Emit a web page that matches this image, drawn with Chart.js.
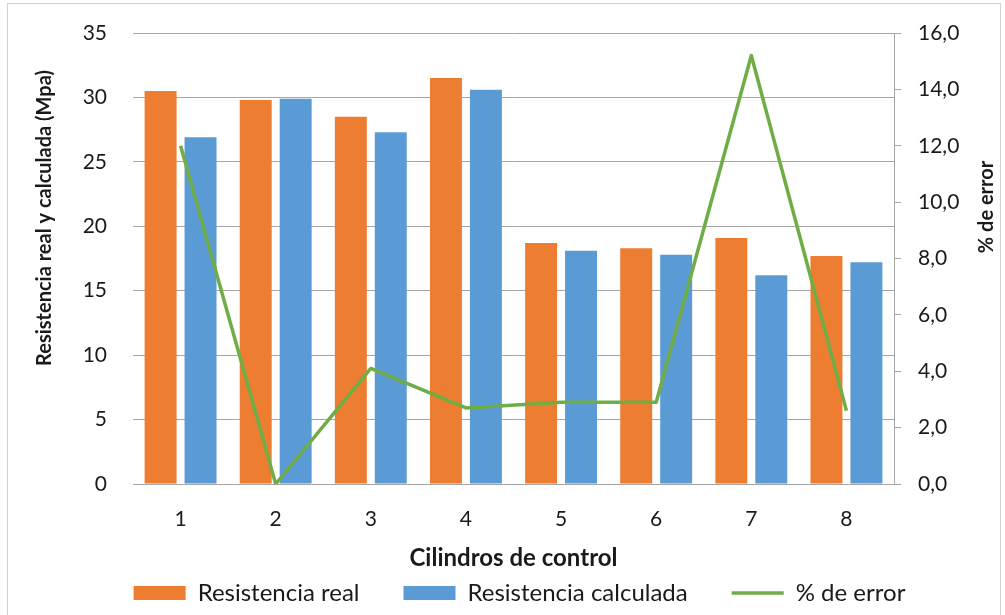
<!DOCTYPE html>
<html>
<head>
<meta charset="utf-8">
<title>Resistencia real y calculada</title>
<script src="https://cdn.jsdelivr.net/npm/chart.js@4/dist/chart.umd.min.js"></script>
<style>
  html, body { margin: 0; padding: 0; background: #ffffff; }
  #wrap { width: 1005px; height: 615px; position: relative; }
  canvas { display: block; }
</style>
</head>
<body>
<div id="wrap"><canvas id="chart" width="1005" height="615"></canvas></div>
<script>
// Cilindros de control: resistencia a compresión real vs. calculada (MPa) y % de error
const categories = ['1', '2', '3', '4', '5', '6', '7', '8'];
const resistenciaReal = [30.5, 29.8, 28.5, 31.5, 18.7, 18.3, 19.1, 17.7];
const resistenciaCalculada = [26.9, 29.9, 27.3, 30.6, 18.1, 17.8, 16.2, 17.2];
const porcentajeError = [12.0, 0.0, 4.1, 2.7, 2.9, 2.9, 15.2, 2.6];
const seriesNames = ['Resistencia real', 'Resistencia calculada', '% de error'];
const axisTitles = {
  left: 'Resistencia real y calculada (Mpa)',
  right: '% de error',
  bottom: 'Cilindros de control'
};

const FONT = 'Lato, "Open Sans", "DejaVu Sans", sans-serif';
const TEXT = '#1a1a1a';
const GRID = '#a6a6a6';

// White background, outer frame and the two vertical axis titles
const framePlugin = {
  id: 'frame',
  beforeDraw(chart) {
    const ctx = chart.ctx;
    ctx.save();
    ctx.fillStyle = '#ffffff';
    ctx.fillRect(0, 0, chart.width, chart.height);
    ctx.strokeStyle = '#d0d0d0';
    ctx.lineWidth = 1;
    ctx.strokeRect(7.5, 3.5, 993, 640);
    ctx.restore();
  },
  afterDraw(chart) {
    const ctx = chart.ctx;
    const area = chart.chartArea;
    ctx.save();
    ctx.fillStyle = TEXT;
    ctx.font = 'bold 20px ' + FONT;
    ctx.textAlign = 'center';
    ctx.textBaseline = 'middle';
    ctx.translate(area.left - 88, area.top + 185);
    ctx.rotate(-Math.PI / 2);
    ctx.fillText(axisTitles.left, 0, 0);
    ctx.restore();

    ctx.save();
    ctx.fillStyle = TEXT;
    ctx.font = 'bold 20px ' + FONT;
    ctx.textAlign = 'center';
    ctx.textBaseline = 'middle';
    ctx.translate(area.right + 93, area.top + 174);
    ctx.rotate(-Math.PI / 2);
    ctx.fillText(axisTitles.right, 0, 0);
    ctx.restore();
  }
};

// Vertical scales: fixed width, no extra top/bottom padding from the tick labels
function fixVertical(width) {
  return function (scale) {
    scale.width = width;
    scale.paddingTop = 0;
    scale.paddingBottom = 0;
  };
}

const chart = new Chart(document.getElementById('chart'), {
  data: {
    labels: categories,
    datasets: [
      {
        type: 'bar',
        label: seriesNames[0],
        data: resistenciaReal,
        backgroundColor: '#ed7d31',
        yAxisID: 'y',
        order: 1,
        barPercentage: 0.8,
        categoryPercentage: 0.84
      },
      {
        type: 'bar',
        label: seriesNames[1],
        data: resistenciaCalculada,
        backgroundColor: '#5b9bd5',
        yAxisID: 'y',
        order: 1,
        barPercentage: 0.8,
        categoryPercentage: 0.84
      },
      {
        type: 'line',
        label: seriesNames[2],
        data: porcentajeError,
        borderColor: '#70ad47',
        backgroundColor: '#70ad47',
        borderWidth: 3.5,
        borderJoinStyle: 'round',
        pointRadius: 0,
        pointHoverRadius: 0,
        tension: 0,
        fill: false,
        yAxisID: 'y1',
        order: 0
      }
    ]
  },
  options: {
    responsive: false,
    animation: false,
    devicePixelRatio: 1,
    layout: { padding: { left: 34, right: 0, top: 33, bottom: 0 } },
    plugins: {
      tooltip: { enabled: false },
      legend: {
        position: 'bottom',
        labels: {
          usePointStyle: true,
          pointStyleWidth: 52,
          boxHeight: 14,
          padding: 44,
          color: TEXT,
          font: { family: FONT, size: 24 },
          generateLabels(c) {
            const items = Chart.defaults.plugins.legend.labels.generateLabels(c);
            items.sort((a, b) => a.datasetIndex - b.datasetIndex);
            items.forEach((it) => {
              const ds = c.data.datasets[it.datasetIndex];
              if (ds.type === 'line') {
                it.pointStyle = 'line';
                it.strokeStyle = ds.borderColor;
                it.lineWidth = 3.5;
              } else {
                it.pointStyle = 'rect';
                it.lineWidth = 0;
              }
            });
            return items;
          }
        }
      }
    },
    scales: {
      x: {
        grid: { display: false, drawTicks: false },
        border: { display: true, color: GRID, width: 1 },
        ticks: { padding: 23, color: TEXT, font: { family: FONT, size: 21 } },
        title: {
          display: true,
          text: axisTitles.bottom,
          color: TEXT,
          font: { family: FONT, size: 24, weight: 'bold' },
          padding: { top: 0, bottom: -36 }
        },
        afterFit(scale) { scale.height = 53; }
      },
      y: {
        position: 'left',
        min: 0,
        max: 35,
        ticks: { stepSize: 5, padding: 26, color: TEXT, font: { family: FONT, size: 21 } },
        grid: { color: GRID, lineWidth: 1, drawTicks: false },
        border: { display: false },
        afterFit: fixVertical(99)
      },
      y1: {
        position: 'right',
        min: 0,
        max: 16,
        ticks: {
          stepSize: 2,
          padding: 17,
          color: TEXT,
          font: { family: FONT, size: 21 },
          callback: (v) => v.toFixed(1).replace('.', ',')
        },
        grid: { drawOnChartArea: false, drawTicks: true, tickLength: 7, color: GRID },
        border: { display: true, color: GRID, width: 1 },
        afterFit: fixVertical(111)
      }
    }
  },
  plugins: [framePlugin]
});
</script>
</body>
</html>
